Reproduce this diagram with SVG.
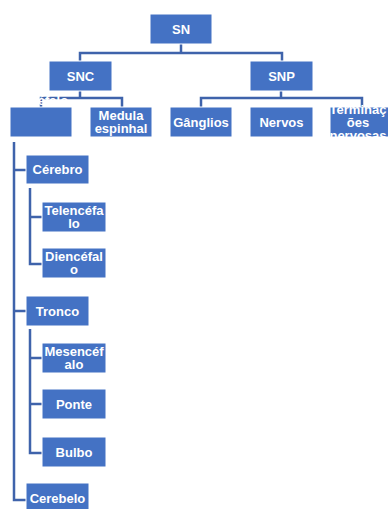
<svg xmlns="http://www.w3.org/2000/svg" width="388" height="509" viewBox="0 0 388 509">
<style>
.b{fill:#4472C4;stroke:#FFFFFF;stroke-width:1}
.t{font-family:"Liberation Sans",Arial,sans-serif;font-weight:bold;font-size:13px;fill:#FFFFFF;text-anchor:middle}
.c{fill:none;stroke:#3F63AB;stroke-width:2.5}
</style>
<rect width="388" height="509" fill="#FFFFFF"/>
<g id="connectors">
<path class="c" d="M181,44V53H80V61M181,53H282V61"/>
<path class="c" d="M80,91V98H41V107M80,98H122V107"/>
<path class="c" d="M281,91V98H201V107M281,98H362V107"/>
<path class="c" d="M14,142V500H26M14,170H26M14,311H26"/>
<path class="c" d="M30,188V264H42M30,217H42"/>
<path class="c" d="M30,329V453H42M30,358H42M30,404H42"/>
</g>
<g id="SN"><rect class="b" x="150" y="14" width="62" height="30"/><text class="t" x="181" y="33.5">SN</text></g>
<g id="SNC"><rect class="b" x="49" y="61" width="63" height="30"/><text class="t" x="80.5" y="80.5">SNC</text></g>
<g id="SNP"><rect class="b" x="250" y="61" width="63" height="30"/><text class="t" x="281.5" y="80.5">SNP</text></g>
<g id="Encefalo"><rect class="b" x="10" y="107" width="62" height="30"/><text class="t" x="41" y="105">Encéfalo</text></g>
<g id="Medula"><rect class="b" x="90" y="107" width="62" height="30"/><text class="t" x="121" y="120">Medula</text><text class="t" x="121" y="133">espinhal</text></g>
<g id="Ganglios"><rect class="b" x="170" y="107" width="62" height="30"/><text class="t" x="201" y="126.5">Gânglios</text></g>
<g id="Nervos"><rect class="b" x="250" y="107" width="63" height="30"/><text class="t" x="281.5" y="126.5">Nervos</text></g>
<g id="Terminacoes"><rect class="b" x="330" y="107" width="62" height="30"/><text class="t" x="358" y="113.5">Terminaç</text><text class="t" x="358" y="126.5">ões</text><text class="t" x="358" y="139.5">nervosas</text></g>
<g id="Cerebro"><rect class="b" x="26" y="155" width="63" height="29"/><text class="t" x="57.5" y="174">Cérebro</text></g>
<g id="Telencefalo"><rect class="b" x="42" y="202" width="64" height="30"/><text class="t" x="74" y="214.5">Telencéfa</text><text class="t" x="74" y="227.5">lo</text></g>
<g id="Diencefalo"><rect class="b" x="42" y="248" width="64" height="30"/><text class="t" x="74" y="260.5">Diencéfal</text><text class="t" x="74" y="273.5">o</text></g>
<g id="Tronco"><rect class="b" x="26" y="296" width="63" height="30"/><text class="t" x="57.5" y="315.5">Tronco</text></g>
<g id="Mesencefalo"><rect class="b" x="42" y="343" width="64" height="30"/><text class="t" x="74" y="355.5">Mesencéf</text><text class="t" x="74" y="368.5">alo</text></g>
<g id="Ponte"><rect class="b" x="42" y="389" width="64" height="30"/><text class="t" x="74" y="408.5">Ponte</text></g>
<g id="Bulbo"><rect class="b" x="42" y="437" width="64" height="30"/><text class="t" x="74" y="456.5">Bulbo</text></g>
<g id="Cerebelo"><rect class="b" x="26" y="483" width="63" height="30"/><text class="t" x="57.5" y="502.5">Cerebelo</text></g>
</svg>
